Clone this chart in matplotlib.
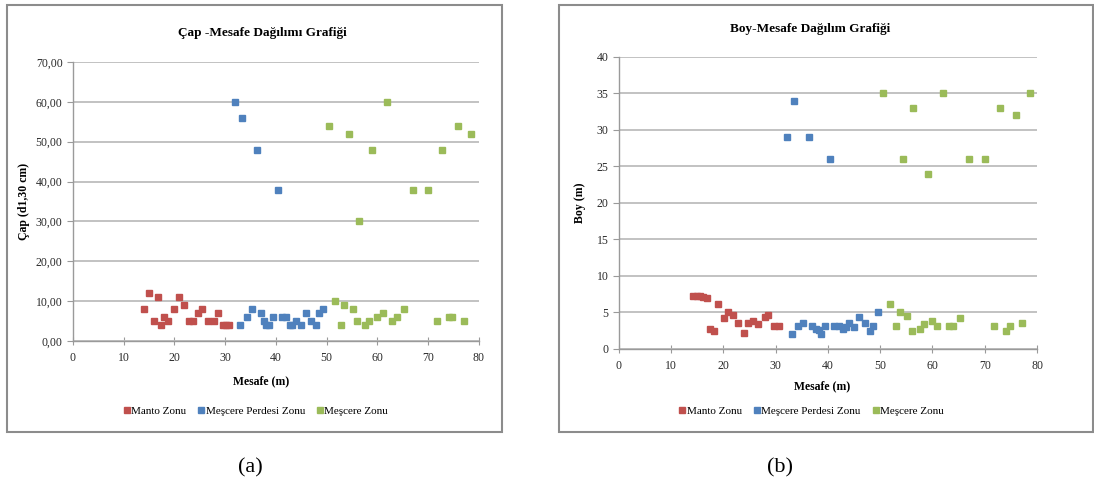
import matplotlib.pyplot as plt
from matplotlib.patches import Rectangle
from matplotlib.ticker import FuncFormatter

plt.rcParams['font.family'] = ['Liberation Serif', 'DejaVu Serif']

# Colores de las series (estilo Excel)
RED = '#C0504D'
BLUE = '#4F81BD'
GREEN = '#9BBB59'
GRID = '#BDBDBD'

series_names = ['Manto Zonu', 'Meşcere Perdesi Zonu', 'Meşcere Zonu']

# Panel (a): Çap - Mesafe
manto_x_a = [14.0, 15.0, 16.0, 16.8, 17.4, 18.0, 18.8, 20.0, 20.8, 21.8,
             22.8, 23.7, 24.6, 25.5, 26.6, 27.7, 28.5, 29.6, 30.2, 30.8]
manto_y_a = [8, 12, 5, 11, 4, 6, 5, 8, 11, 9,
             5, 5, 7, 8, 5, 5, 7, 4, 4, 4]
perde_x_a = [32.0, 33.4, 36.2, 40.4, 33.0, 34.2, 35.3, 37.0, 37.6, 38.0, 38.6,
             39.4, 41.2, 41.9, 42.7, 43.2, 44.0, 45.0, 46.0, 47.0, 47.9, 48.5, 49.3]
perde_y_a = [60, 56, 48, 38, 4, 6, 8, 7, 5, 4, 4,
             6, 6, 6, 4, 4, 5, 4, 7, 5, 4, 7, 8]
mescere_x_a = [50.4, 54.4, 56.3, 59.0, 61.9, 67.0, 70.0, 72.7, 75.9, 78.4,
               51.7, 52.9, 53.5, 55.1, 56.0, 57.6, 58.3, 60.0, 61.0, 62.9,
               63.9, 65.2, 71.7, 74.0, 74.7, 77.0]
mescere_y_a = [54, 52, 30, 48, 60, 38, 38, 48, 54, 52,
               10, 4, 9, 8, 5, 4, 5, 6, 7, 5,
               6, 8, 5, 6, 6, 5]

# Panel (b): Boy - Mesafe
manto_x_b = [14.1, 14.85, 15.5, 16.1, 16.8, 17.4, 18.2, 18.9, 20.1, 20.8,
             21.8, 22.8, 23.9, 24.7, 25.7, 26.6, 27.9, 28.6, 29.7, 30.6]
manto_y_b = [7.2, 7.2, 7.2, 7.1, 7.0, 2.7, 2.5, 6.1, 4.2, 5.1,
             4.6, 3.5, 2.2, 3.5, 3.8, 3.4, 4.4, 4.6, 3.2, 3.1]
perde_x_b = [32.1, 33.5, 36.3, 40.4, 33.1, 34.3, 35.3, 37.0, 37.8, 38.2, 38.7,
             39.4, 41.2, 42.1, 42.8, 43.4, 44.0, 45.0, 46.0, 47.0, 48.1, 48.7, 49.5]
perde_y_b = [29, 34, 29, 26, 2.0, 3.2, 3.5, 3.2, 2.8, 2.6, 2.1,
             3.1, 3.2, 3.2, 2.7, 3.0, 3.5, 3.0, 4.4, 3.5, 2.5, 3.2, 5.1]
mescere_x_b = [50.5, 54.4, 56.3, 59.1, 62.0, 67.0, 70.0, 72.9, 76.0, 78.6,
               51.8, 53.0, 53.7, 55.2, 56.0, 57.7, 58.4, 60.0, 60.9, 63.1,
               63.9, 65.2, 71.8, 74.1, 74.8, 77.1]
mescere_y_b = [35, 26, 33, 24, 35, 26, 26, 33, 32, 35,
               6.1, 3.1, 5.1, 4.5, 2.5, 2.7, 3.4, 3.8, 3.2, 3.2,
               3.2, 4.2, 3.1, 2.5, 3.2, 3.6]


def draw_panel(ax, data, ymax, ystep, yfmt, ylabel):
    for (x, y), color, name in zip(data, [RED, BLUE, GREEN], series_names):
        ax.plot(x, y, 's', color=color, markersize=4.7, label=name, linestyle='none')
    ax.set_xlim(0, 80)
    ax.set_ylim(0, ymax)
    ax.set_xticks(range(0, 81, 10))
    ax.set_yticks(range(0, ymax + 1, ystep))
    ax.yaxis.set_major_formatter(FuncFormatter(yfmt))
    ax.grid(axis='y', color=GRID, linewidth=1.3)
    ax.set_axisbelow(True)
    for side in ['top', 'right']:
        ax.spines[side].set_visible(False)
    for side in ['left', 'bottom']:
        ax.spines[side].set_color('#9A9A9A')
        ax.spines[side].set_linewidth(1.0)
    ax.tick_params(axis='x', direction='inout', length=6, color='#9A9A9A',
                   labelsize=8.5, labelcolor='#2A2A2A', pad=5)
    ax.tick_params(axis='y', direction='out', length=4, color='#9A9A9A',
                   labelsize=8.5, labelcolor='#2A2A2A')
    ax.set_ylabel(ylabel, fontsize=8.5, fontweight='bold')


fig = plt.figure(figsize=(10.94, 4.90), dpi=100)

# Marcos de cada gráfico
fig.patches.append(Rectangle((7 / 1094, 1 - 432 / 490), 495 / 1094, 427 / 490,
                             transform=fig.transFigure, fill=False,
                             edgecolor='#8C8C8C', linewidth=1.5))
fig.patches.append(Rectangle((559 / 1094, 1 - 432 / 490), 534 / 1094, 427 / 490,
                             transform=fig.transFigure, fill=False,
                             edgecolor='#8C8C8C', linewidth=1.5))

ax1 = fig.add_axes([0.0667, 0.3041, 0.3711, 0.5694])
draw_panel(ax1, [(manto_x_a, manto_y_a), (perde_x_a, perde_y_a), (mescere_x_a, mescere_y_a)],
           70, 10, lambda v, p: f'{v:.2f}'.replace('.', ','), 'Çap (d1,30 cm)')
ax1.yaxis.set_label_coords(-0.105, 0.5)

ax2 = fig.add_axes([0.5658, 0.2878, 0.3821, 0.5959])
draw_panel(ax2, [(manto_x_b, manto_y_b), (perde_x_b, perde_y_b), (mescere_x_b, mescere_y_b)],
           40, 5, lambda v, p: f'{v:.0f}', 'Boy (m)')
ax2.yaxis.set_label_coords(-0.08, 0.5)

# Títulos y etiquetas
fig.text(0.2395, 0.9327, 'Çap -Mesafe Dağılımı Grafiği', ha='center', va='center',
         fontsize=9.5, fontweight='bold')
fig.text(0.7404, 0.9408, 'Boy-Mesafe Dağılım Grafiği', ha='center', va='center',
         fontsize=9.5, fontweight='bold')
fig.text(0.2386, 0.2224, 'Mesafe (m)', ha='center', va='center', fontsize=8.5, fontweight='bold')
fig.text(0.7514, 0.2122, 'Mesafe (m)', ha='center', va='center', fontsize=8.5, fontweight='bold')

for ax, cx in [(ax1, 0.234), (ax2, 0.742)]:
    handles, labels = ax.get_legend_handles_labels()
    fig.legend(handles, labels, loc='center', bbox_to_anchor=(cx, 0.161), ncol=3,
               frameon=False, fontsize=8, handlelength=0.5, handletextpad=0.15,
               columnspacing=1.1, markerscale=0.9)

fig.text(0.2285, 0.045, '(a)', ha='center', va='center', fontsize=16)
fig.text(0.713, 0.045, '(b)', ha='center', va='center', fontsize=16)

fig.savefig('out.png', dpi=100)
